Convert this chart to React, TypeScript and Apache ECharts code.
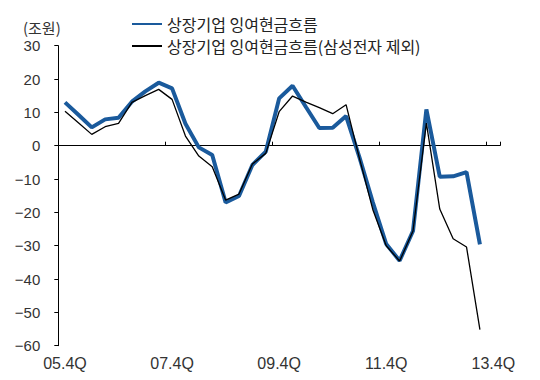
import React, { useEffect, useRef } from "react";
import * as echarts from "echarts";

const categories = [
  "05.4Q", "06.1Q", "06.2Q", "06.3Q", "06.4Q", "07.1Q", "07.2Q", "07.3Q",
  "07.4Q", "08.1Q", "08.2Q", "08.3Q", "08.4Q", "09.1Q", "09.2Q", "09.3Q",
  "09.4Q", "10.1Q", "10.2Q", "10.3Q", "10.4Q", "11.1Q", "11.2Q", "11.3Q",
  "11.4Q", "12.1Q", "12.2Q", "12.3Q", "12.4Q", "13.1Q", "13.2Q", "13.3Q",
  "13.4Q",
];

const seriesNames = ["상장기업 잉여현금흐름", "상장기업 잉여현금흐름(삼성전자 제외)"];

const freeCashFlow = [
  13.0, 9.3, 5.5, 7.9, 8.4, 13.2, 16.3, 18.9, 17.2, 6.6, -0.5, -2.8,
  -17.0, -15.1, -5.8, -1.8, 14.2, 18.0, 11.6, 5.3, 5.4, 8.9, -3.5, -17.0,
  -29.5, -34.5, -25.6, 10.9, -9.3, -9.2, -7.9, -29.6,
];

const freeCashFlowExSamsung = [
  10.3, 6.9, 3.4, 5.7, 6.7, 13.0, 15.0, 16.9, 13.9, 2.9, -3.1, -6.3,
  -16.3, -14.5, -5.5, -2.3, 10.2, 14.9, 13.1, 11.4, 9.6, 12.3, -3.8, -19.2,
  -30.0, -34.6, -25.6, 6.8, -19.0, -27.9, -30.4, -55.2,
];

const yTicks = { min: -60, max: 30, interval: 10 };
const unitLabel = "(조원)";

export default function App() {
  const ref = useRef<HTMLDivElement>(null);
  useEffect(() => {
    if (!ref.current) return;
    const chart = echarts.init(ref.current, null, { renderer: "svg" });
    const numFont = "'Liberation Sans', Arial, sans-serif";
    const krFont = "'Noto Sans CJK KR', sans-serif";
    chart.setOption({
      animation: false,
      backgroundColor: "#ffffff",
      grid: { left: 58.3, right: 40, top: 45.7, bottom: 34.3, containLabel: false },
      legend: {
        orient: "vertical",
        left: 131,
        top: 16,
        itemWidth: 30,
        itemHeight: 14,
        itemGap: 6,
        padding: 0,
        itemStyle: { opacity: 0 },
        textStyle: { fontFamily: krFont, fontSize: 16, lineHeight: 14, color: "#222" },
        data: seriesNames,
      },
      graphic: [
        {
          type: "text",
          left: 23,
          top: 20,
          style: { text: unitLabel, fontFamily: krFont, fontSize: 15, fill: "#333" },
        },
      ],
      xAxis: [
        {
          type: "category",
          data: categories,
          boundaryGap: true,
          position: "bottom",
          axisLine: { show: false, onZero: false },
          axisTick: { show: false },
          axisLabel: {
            interval: 7,
            margin: 10,
            fontFamily: numFont,
            fontSize: 16,
            color: "#333",
          },
          splitLine: { show: false },
        },
        {
          type: "category",
          data: categories,
          boundaryGap: true,
          position: "bottom",
          axisLine: { show: true, onZero: true, lineStyle: { color: "#000", width: 1 } },
          axisTick: { show: true, inside: true, interval: 7, length: 4, lineStyle: { color: "#000" } },
          axisLabel: { show: false },
          splitLine: { show: false },
        },
      ],
      yAxis: {
        type: "value",
        min: yTicks.min,
        max: yTicks.max,
        interval: yTicks.interval,
        axisLine: { show: true, lineStyle: { color: "#000", width: 1 } },
        axisTick: { show: true, length: 4, lineStyle: { color: "#000" } },
        axisLabel: {
          margin: 18,
          fontFamily: numFont,
          fontSize: 15,
          color: "#333",
          formatter: (v: number) => String(v).replace("-", "\u2212"),
        },
        splitLine: { show: false },
      },
      series: [
        {
          name: seriesNames[1],
          type: "line",
          xAxisIndex: 0,
          data: freeCashFlowExSamsung,
          symbol: "none",
          lineStyle: { color: "#000000", width: 1.3 },
          itemStyle: { color: "#000000" },
          z: 3,
        },
        {
          name: seriesNames[0],
          type: "line",
          xAxisIndex: 0,
          data: freeCashFlow,
          symbol: "none",
          lineStyle: { color: "#1a5a9c", width: 4 },
          itemStyle: { color: "#1a5a9c" },
          z: 2,
        },
      ],
    });
    return () => chart.dispose();
  }, []);
  return <div ref={ref} style={{ width: 540, height: 380, position: "absolute", left: 0, top: 0 }} />;
}
